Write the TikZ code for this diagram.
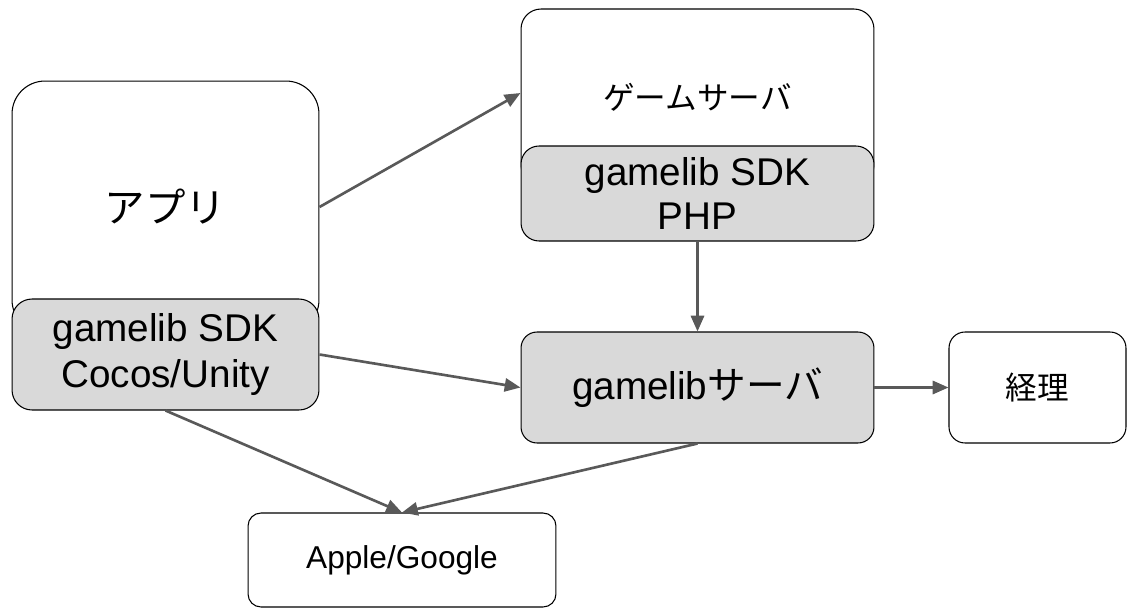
\documentclass[tikz,border=0pt]{standalone}
\usepackage{fontspec}
\setmainfont{Liberation Sans}
\newfontfamily\jpfont{Noto Sans CJK JP}
\usetikzlibrary{arrows.meta}
\definecolor{sdkgray}{HTML}{D9D9D9}
\definecolor{arrowgray}{HTML}{595959}
\tikzset{
  box/.style={draw, fill=white, line width=0.6pt, inner sep=0pt, align=center},
  sdkbox/.style={box, fill=sdkgray},
  flow/.style={draw=arrowgray, line width=1.5pt,
    -{Triangle[length=9pt,width=7.5pt]}},
}
\begin{document}
\begin{tikzpicture}[x=0.02cm,y=-0.02cm]
    \useasboundingbox (0,0) rectangle (1134,616);
    % app + sdk
    \node[box, rounded corners=0.66cm, minimum width=6.14cm, minimum height=5.04cm,
      font=\jpfont\fontsize{23}{28}\selectfont] (app) at (165.5,207) {アプリ};
    \node[sdkbox, rounded corners=0.4cm, minimum width=6.14cm, minimum height=2.22cm,
      font=\fontsize{22}{26.6}\selectfont] (appsdk) at (165.5,354.5) {gamelib SDK\\Cocos/Unity};
    % game server + sdk
    \node[box, rounded corners=0.4cm, minimum width=7.06cm, minimum height=3.52cm,
      font=\jpfont\fontsize{18}{22}\selectfont] (game) at (697.5,97) {ゲームサーバ};
    \node[sdkbox, rounded corners=0.36cm, minimum width=7.06cm, minimum height=1.9cm,
      font=\fontsize{22}{25.5}\selectfont] (phpsdk) at (697.5,193.5) {gamelib SDK\\PHP};
    % gamelib server
    \node[sdkbox, rounded corners=0.32cm, minimum width=7.06cm, minimum height=2.22cm,
      font=\fontsize{22}{26.6}\selectfont] (glserver) at (697.5,387.5) {gamelib{\jpfont サーバ}};
    \node[box, rounded corners=0.32cm, minimum width=3.54cm, minimum height=2.22cm,
      font=\jpfont\fontsize{18}{22}\selectfont] (keiri) at (1037.5,387.5) {経理};
    \node[box, rounded corners=0.26cm, minimum width=6.16cm, minimum height=1.88cm,
      font=\fontsize{18}{22}\selectfont] (store) at (402,560) {Apple/Google};
    % connectors
    \draw[flow] (app.east) -- ([yshift=0.08cm]game.west);
    \draw[flow] (appsdk.east) -- (glserver.west);
    \draw[flow] (appsdk.south) -- (store.north);
    \draw[flow] (glserver.south) -- (store.north);
    \draw[flow] (phpsdk.south) -- (glserver.north);
    \draw[flow] (glserver.east) -- (keiri.west);
\end{tikzpicture}
\end{document}
